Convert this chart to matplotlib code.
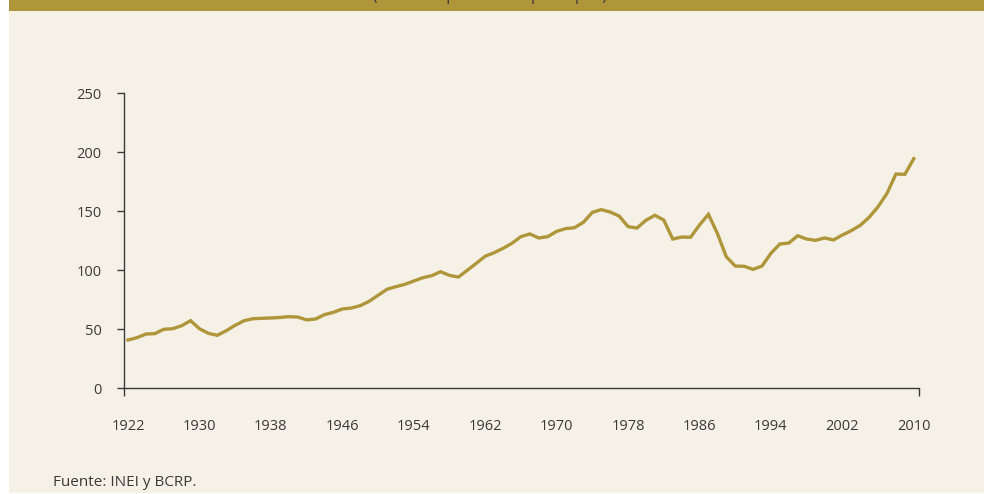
import matplotlib
matplotlib.use("Agg")
import matplotlib.pyplot as plt
from matplotlib.patches import Rectangle

years = list(range(1922, 2011))
values = [
    40.9, 42.9, 46.0, 46.3, 50.0, 50.5, 53.0, 57.3, 50.5, 46.6,   # 1922-1931
    44.9, 48.8, 53.4, 57.3, 59.0, 59.3, 59.6, 60.0, 60.7, 60.4,   # 1932-1941
    58.0, 58.7, 62.4, 64.4, 67.2, 68.0, 70.0, 73.7, 78.8, 83.9,   # 1942-1951
    86.1, 88.1, 90.9, 93.7, 95.4, 98.8, 95.7, 94.3, 100.0, 105.9, # 1952-1961
    111.9, 114.9, 118.6, 122.9, 128.5, 130.8, 127.4, 128.5, 133.0, 135.3,  # 1962-1971
    136.1, 140.7, 149.1, 151.4, 149.4, 146.0, 137.0, 135.8, 142.4, 146.6,  # 1972-1981
    142.6, 126.5, 128.2, 128.0, 138.4, 147.4, 131.3, 111.5, 103.6, 103.4,  # 1982-1991
    100.8, 103.6, 114.4, 122.3, 123.1, 129.3, 126.5, 125.4, 127.4, 125.7,  # 1992-2001
    129.9, 133.6, 138.1, 144.9, 153.9, 165.2, 181.6, 181.3, 194.6,         # 2002-2010
]
label_years = list(range(1922, 2011, 8))
y_ticks = [0, 50, 100, 150, 200, 250]
title = "(Índice de producción per cápita)"
source = "Fuente: INEI y BCRP."

gold = "#b0963a"
cream = "#f5f1e6"
ink = "#3a3a3a"

plt.rcParams["font.family"] = ["Open Sans", "DejaVu Sans"]

fig = plt.figure(figsize=(9.84, 4.94), dpi=100, facecolor="white")

# cream panel and gold heading band
fig.patches.append(Rectangle((9 / 984, 0.002), 1, 1, transform=fig.transFigure,
                             facecolor=cream, edgecolor="none", zorder=-2))
fig.patches.append(Rectangle((9 / 984, 1 - 11 / 494), 1, 11 / 494, transform=fig.transFigure,
                             facecolor=gold, edgecolor="none", zorder=-1))
# heading text is cut off by the top edge in the original
fig.text(0.498, 1 + 5 / 494, title, ha="center", va="center", fontsize=11, color=ink)

ax = fig.add_axes([124 / 984, 1 - 388.3 / 494, 794.7 / 984, 295 / 494])
ax.set_facecolor("none")
ax.plot(years, values, color=gold, lw=2.4, solid_joinstyle="miter")

ax.set_xlim(1921.55, 2010.55)
ax.set_ylim(0, 250)

ax.spines["right"].set_visible(False)
ax.spines["top"].set_visible(False)
for s in ("left", "bottom"):
    ax.spines[s].set_color(ink)
    ax.spines[s].set_linewidth(1.0)

ax.set_yticks(y_ticks)
ax.tick_params(axis="y", length=5, width=1, color=ink, labelcolor=ink,
               labelsize=10.5, pad=11)

# labels at the years, marks between the category groups
ax.set_xticks(label_years)
ax.set_xticklabels([str(y) for y in label_years])
ax.tick_params(axis="x", which="major", length=0, labelcolor=ink, labelsize=10.5, pad=22)
ax.set_xticks([1921.55] + label_years[1:-1] + [2010.55], minor=True)
ax.tick_params(axis="x", which="minor", length=6, width=1, color=ink)

fig.text(53 / 984, 1 - 482 / 494, source, ha="left", va="center", fontsize=11, color=ink)

fig.savefig("out.png", dpi=100, facecolor=fig.get_facecolor())
